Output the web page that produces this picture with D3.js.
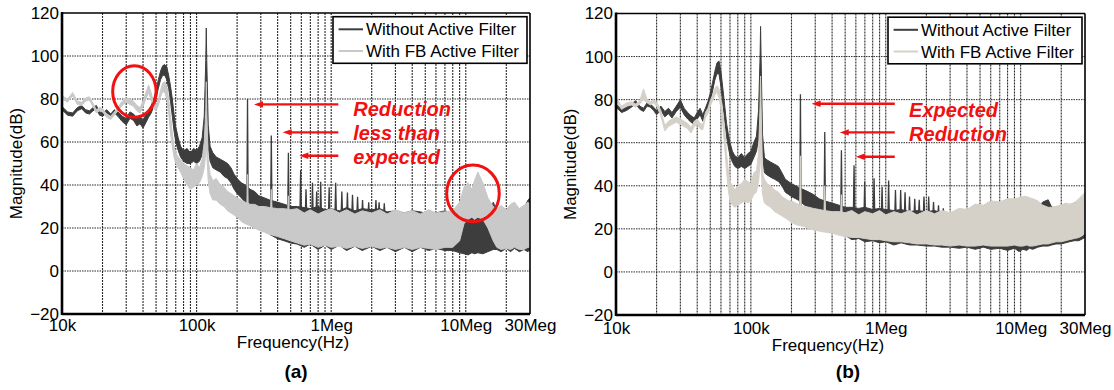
<!DOCTYPE html>
<html>
<head>
<meta charset="utf-8">
<script src="https://cdn.jsdelivr.net/npm/d3@7"></script>
<style>
  body { margin: 0; background: #fff; }
  text { font-family: "Liberation Sans", Arial, sans-serif; }
</style>
</head>
<body>
<svg id="chart" width="1114" height="390"></svg>
<script>
// frequency grid shared by both spectra (kHz)
const freqKHz = [
  10, 11, 12, 13, 14, 15, 16, 17, 18, 19,
  20, 21.5, 23, 24.5, 26, 28, 30, 32, 34, 36,
  38, 40, 42, 44, 46, 48, 50, 52, 54, 56,
  58, 60, 62, 64, 66, 68, 70, 73, 76, 80,
  85, 90, 95, 100, 105, 110, 114, 117, 118, 119,
  122, 126, 132, 140, 150, 160, 170, 180, 190, 200,
  215, 230, 250, 270, 290, 320, 350, 400, 450, 500,
  560, 630, 700, 800, 900, 1000, 1150, 1300, 1500, 1700,
  2000, 2300, 2600, 3000, 3500, 4000, 4600, 5300, 6000, 7000,
  8000, 9000, 9700, 10400, 11100, 11600, 12300, 13400, 14600, 16000,
  17000, 18300, 20000, 21500, 23000, 25000, 27000, 29000, 30000
];

// (a) without active filter: upper / lower edge of the trace (dB)
const darkHiA = [
  76.5, 74, 73.5, 76, 77, 75, 74.5, 76, 77, 74,
  73.5, 75, 73, 75, 74, 72, 71, 74, 73, 71,
  72, 70, 73, 75, 77, 80, 84, 89, 93, 95.5,
  96, 95, 91, 86, 80, 73, 67, 62, 58, 56,
  57, 55, 57, 56, 58, 62, 72, 98, 113, 98,
  68, 58, 55, 53, 52, 51, 50, 48, 45, 43,
  41, 40, 38, 37, 35, 34, 33, 32, 31, 30,
  30, 29.5, 29, 30, 28.5, 29, 28, 29.5, 28, 29,
  28.5, 29, 27.5, 28, 27, 28, 27.5, 26.5, 27, 28,
  27, 27.5, 24, 25, 26, 25, 26, 25, 25, 32,
  28, 27, 28, 27.5, 28, 27, 29, 33, 34
];
const darkLoA = [
  75, 72.5, 72, 74.5, 75.5, 73.5, 73, 74.5, 75.5, 72.5,
  72, 73.5, 71.5, 73.5, 72, 69.5, 68, 71, 70, 67.5,
  68.5, 66.5, 69, 71.5, 73.5, 76.5, 80, 85, 89, 91,
  91, 89, 85, 79, 72, 65, 60, 56, 53, 51,
  50, 50, 51, 50, 51, 54, 60, 70, 80, 70,
  58, 51, 48, 47, 46, 44, 43, 41, 38, 36,
  34, 32, 29, 26, 23, 20, 17, 15, 14, 13,
  12.5, 11, 12.5, 10, 12, 10, 12, 9.5, 11.5, 9.5,
  11.5, 9.5, 11, 9, 11, 9, 11, 9.5, 10.5, 9.5,
  9.5, 8.5, 8, 7.5, 8.5, 8, 8.5, 8, 9, 10,
  10, 9, 10.5, 9, 10.5, 9, 10, 9, 10
];
// (a) with FB active filter
const lightHiA = [
  81.5, 80, 83, 79, 78.5, 80.5, 81, 78, 75, 76,
  75.5, 73, 72, 74, 76, 79, 80.5, 80, 79, 77,
  76, 79, 83, 86.5, 83, 78, 77, 80, 84, 87.5,
  88, 86, 80, 72, 64, 58, 55, 53, 52, 50,
  49, 48, 47, 50, 48, 52, 60, 75, 88, 75,
  52, 45, 42, 43, 40, 39, 37, 36, 35, 34,
  33, 32, 31, 31, 30, 30, 29.5, 29, 29, 28.5,
  29, 27, 28.5, 26.5, 28, 29, 27, 28.5, 26.5, 28,
  27, 28.5, 26.5, 28.5, 27, 28, 26.5, 28.5, 27, 27.5,
  28, 32, 39, 41, 38, 42, 46, 41, 34, 30,
  29, 30.5, 28.5, 31, 32, 29, 30.5, 32, 31
];
const lightLoA = [
  80, 78.5, 81.5, 77.5, 77, 79, 79.5, 76.5, 73.5, 74.5,
  74, 71.5, 70.5, 72.5, 74.5, 77, 78.5, 77.5, 76.5, 74.5,
  73.5, 76.5, 80, 83, 79.5, 75.5, 74.5, 77, 81, 83.5,
  83, 80, 74, 64, 58, 53, 50, 48, 46, 43,
  40, 38, 39, 40, 41, 44, 48, 55, 60, 55,
  42, 36, 33, 33, 31, 30, 28, 27, 26, 25,
  23, 22, 21, 20, 19, 18, 17, 16, 15, 14,
  13, 12, 12.5, 11, 12, 11, 11.5, 10.5, 11.5, 10.5,
  11.5, 10.5, 11, 10, 11, 10, 11, 10.5, 10, 11,
  11, 14, 22, 24, 25, 24, 25, 24, 20, 14,
  11, 10, 10.5, 10, 11, 10, 10, 11, 11
];

// (b) without active filter
const darkHiB = [
  78, 75.5, 76.5, 78, 79.5, 77, 76, 78.5, 78, 76.5,
  75, 77, 74.5, 76, 74, 77, 80, 76, 74, 72.5,
  71.5, 74, 76, 73, 76, 79, 83, 88, 93, 97,
  98, 93, 85, 77, 69, 64, 60, 56, 54, 53,
  55, 53, 55, 56, 60, 63, 75, 100, 114, 100,
  64, 53, 52, 51, 50, 49, 46, 43, 42, 41,
  40, 39, 38, 37, 36, 34, 33, 32, 31, 30,
  30, 29.5, 30, 29, 29.5, 29, 28.5, 29, 28, 28.5,
  28, 28.5, 27.5, 27, 27, 26.5, 27, 26.5, 27, 27.5,
  28, 29, 30, 30, 31, 31, 30, 30, 32.5, 33.5,
  30, 30, 30, 31, 31, 32, 33, 35, 36
];
const darkLoB = [
  76.5, 74, 75, 76.5, 78, 75.5, 74.5, 77, 76.5, 75,
  73, 75, 72, 73.5, 71.5, 74.5, 76.5, 73, 71, 69.5,
  68.5, 71, 73, 70, 73, 76, 79, 84, 89, 92,
  92, 86, 78, 70, 63, 58, 54, 51, 49, 48,
  49, 48, 49, 50, 53, 56, 62, 72, 80, 72,
  55, 46, 45, 44, 43, 42, 40, 37, 36, 35,
  34, 33, 31, 29, 27, 25, 23, 21, 19, 17,
  15, 15.5, 14, 14.5, 13.5, 14, 12.5, 13.5, 12.5, 12.5,
  12, 12, 11.5, 11.5, 11, 11.5, 10.5, 11.5, 10.5, 11,
  10, 11, 9.5, 10.5, 10, 11, 10.5, 11.5, 12, 12,
  12.5, 13, 13, 13.5, 14, 14.5, 14.5, 15.5, 16
];
// (b) with FB active filter
const lightHiB = [
  81, 77, 78.5, 79, 78, 79.5, 85, 80, 79, 80,
  79, 75, 68, 70, 71, 72, 71, 70, 69, 67,
  70, 71, 69, 68.5, 74, 76, 79.5, 82, 85, 86.5,
  85, 80, 74, 66, 55, 47, 42, 40, 38, 40,
  41, 43, 42, 41, 46, 47, 55, 78, 91, 78,
  46, 43, 41, 40, 38, 37, 35, 34, 33, 33,
  32, 31, 30.5, 30, 29.5, 29, 28.5, 28, 28, 27.5,
  28.5, 26.5, 28, 27, 28.5, 26.5, 28, 27, 28.5, 26.5,
  28.5, 27, 28.5, 27.5, 29.5, 29, 31.5, 31, 33, 32.5,
  34, 34, 34.5, 35, 35, 34.5, 34, 33, 31, 30,
  30, 30.5, 31, 32, 31.5, 32, 34, 36, 36.5
];
const lightLoB = [
  79.5, 75.5, 77, 77.5, 76.5, 78, 80, 78.5, 77.5, 78.5,
  77, 72.5, 65.5, 67.5, 68.5, 69.5, 68.5, 67.5, 66.5, 64.5,
  67.5, 68.5, 66.5, 66, 71.5, 73.5, 77, 79.5, 82, 83.5,
  81, 76, 68, 58, 47, 38, 33, 31, 30, 31,
  32, 33, 32, 33, 36, 37, 42, 50, 60, 50,
  36, 32, 31, 30, 28, 27, 26, 25, 24, 23,
  22, 21.5, 21, 20, 19.5, 19, 18.5, 18, 17, 16.5,
  16, 16, 15.5, 15, 15, 14.5, 14, 14, 13.5, 13,
  13, 12.5, 12.5, 12, 12.5, 12, 12, 12.5, 12, 12,
  12, 12.5, 12, 12, 12.5, 12, 12, 12.5, 13, 13,
  13.5, 14, 14, 14.5, 15, 15.5, 16, 17, 18
];

// narrow harmonic spikes: frequency (kHz) and peak (dB)
const darkSpikeFreqA = [239, 359, 481, 593, 650, 726, 780, 836, 966, 1080, 1200, 1320, 1440, 1570, 1710, 1900, 2150, 2270, 2480];
const darkSpikeTopA = [80, 63, 55, 47, 38, 41, 37, 41.5, 39, 41, 37, 36.5, 35.5, 34.5, 33, 32, 33, 32, 31.5];
const lightSpikeFreqA = [239, 359, 481];
const lightSpikeTopA = [45, 38, 35];
const darkSpikeFreqB = [233, 353, 469, 582, 698, 819, 939, 1050, 1180, 1290, 1390, 1500, 1640, 1770, 1920, 2080, 2260, 2460, 2670];
const darkSpikeTopB = [82.5, 65, 56.5, 49.5, 42, 43.5, 39.5, 42.5, 38, 38, 37, 35, 34, 33.5, 35, 35, 32.5, 31, 29.5];
const lightSpikeFreqB = [233, 353, 469];
const lightSpikeTopB = [54, 40, 36];

const yTicks = [-20, 0, 20, 40, 60, 80, 100, 120];
const xTickValues = [10, 100, 1000, 10000, 30000];
const xTickLabels = ['10k', '100k', '1Meg', '10Meg', '30Meg'];
const legendLabels = ['Without Active Filter', 'With FB Active Filter'];
const notesA = ['Reduction', 'less than', 'expected'];
const notesB = ['Expected', 'Reduction'];

const svg = d3.select('#chart');
const RED = '#f21010';
const DARK = '#3d3d3d';

const panels = [
  {
    id: 'a', left: 62, right: 530, top: 13, bottom: 314,
    darkHi: darkHiA, darkLo: darkLoA, lightHi: lightHiA, lightLo: lightLoA,
    darkSpikes: [darkSpikeFreqA, darkSpikeTopA], lightSpikes: [lightSpikeFreqA, lightSpikeTopA],
    lightColor: '#c9c9c9', caption: '(a)', captionX: 296, xLabelX: 293, xLabelY: 348, tickPad: 5,
    // arrows in data units: tip freq, tail freq, level
    arrows: [[267, 1130, 77.5], [436, 1130, 64.5], [580, 1130, 53.6]],
    notes: notesA, noteF: 1459, noteDb: [72.3, 61.1, 50],
    circles: [[34.5, 83.5, 21.7, 25.8], [11310, 36.1, 26.3, 28.3]]
  },
  {
    id: 'b', left: 616, right: 1085, top: 13.5, bottom: 315,
    darkHi: darkHiB, darkLo: darkLoB, lightHi: lightHiB, lightLo: lightLoB,
    darkSpikes: [darkSpikeFreqB, darkSpikeTopB], lightSpikes: [lightSpikeFreqB, lightSpikeTopB],
    lightColor: '#d5d1c9', caption: '(b)', captionX: 848, xLabelX: 828, xLabelY: 351, tickPad: 7,
    arrows: [[282, 1166, 78.1], [456, 1166, 64.8], [600, 1166, 53.5]],
    notes: notesB, noteF: 1489, noteDb: [71.8, 60.9],
    circles: []
  }
];

panels.forEach(drawPanel);

function drawPanel(p) {
  const x = d3.scaleLog().domain([10, 30000]).range([p.left, p.right]);
  const y = d3.scaleLinear().domain([-20, 120]).range([p.bottom, p.top]);
  const g = svg.append('g').attr('class', 'panel-' + p.id);

  g.append('clipPath').attr('id', 'clip-' + p.id)
    .append('rect')
    .attr('x', p.left).attr('y', p.top)
    .attr('width', p.right - p.left).attr('height', p.bottom - p.top);

  // grid
  const grid = g.append('g').attr('class', 'grid');
  grid.selectAll('line.v')
    .data(x.ticks().filter(d => d > 10 && d < 30000))
    .join('line')
    .attr('class', 'v')
    .attr('x1', d => x(d)).attr('x2', d => x(d))
    .attr('y1', p.top).attr('y2', p.bottom)
    .attr('stroke', '#2a2a2a')
    .attr('stroke-width', 1.1)
    .attr('stroke-dasharray', '2,1');
  grid.selectAll('line.h')
    .data(yTicks.filter(d => d > -20 && d < 120))
    .join('line')
    .attr('class', 'h')
    .attr('x1', p.left).attr('x2', p.right)
    .attr('y1', d => y(d)).attr('y2', d => y(d))
    .attr('stroke', '#2a2a2a')
    .attr('stroke-width', 1)
    .attr('stroke-dasharray', '1.5,1');

  const plot = g.append('g').attr('clip-path', `url(#clip-${p.id})`);

  const band = (hi, lo) => d3.area()
    .x((d, i) => x(freqKHz[i]))
    .y0((d, i) => y(lo[i]))
    .y1((d, i) => y(hi[i]))(freqKHz);

  const spikePath = (f, top, base) =>
    `M${x(f * 0.988)},${y(base)}L${x(f)},${y(top)}L${x(f * 1.012)},${y(base)}Z`;

  plot.append('path')
    .attr('d', band(p.darkHi, p.darkLo))
    .attr('fill', DARK).attr('stroke', DARK).attr('stroke-width', 1);

  plot.append('g').selectAll('path')
    .data(p.darkSpikes[0])
    .join('path')
    .attr('d', (f, i) => spikePath(f, p.darkSpikes[1][i], 26))
    .attr('fill', DARK).attr('stroke', DARK).attr('stroke-width', 1.3);

  plot.append('path')
    .attr('d', band(p.lightHi, p.lightLo))
    .attr('fill', p.lightColor).attr('stroke', p.lightColor).attr('stroke-width', 1);

  plot.append('g').selectAll('path')
    .data(p.lightSpikes[0])
    .join('path')
    .attr('d', (f, i) => spikePath(f, p.lightSpikes[1][i], 26))
    .attr('fill', p.lightColor).attr('stroke', p.lightColor).attr('stroke-width', 1.3);

  // frame
  g.append('line').attr('x1', p.left).attr('x2', p.right).attr('y1', p.top).attr('y2', p.top)
    .attr('stroke', '#000').attr('stroke-width', 1.6);
  g.append('line').attr('x1', p.right).attr('x2', p.right).attr('y1', p.top).attr('y2', p.bottom)
    .attr('stroke', '#000').attr('stroke-width', 1.6);
  g.append('line').attr('x1', p.left).attr('x2', p.right).attr('y1', p.bottom).attr('y2', p.bottom)
    .attr('stroke', '#000').attr('stroke-width', 2.6);
  g.append('line').attr('x1', p.left).attr('x2', p.left).attr('y1', p.top - 1).attr('y2', p.bottom + 1)
    .attr('stroke', '#000').attr('stroke-width', 2.6);

  // axes
  const yAxis = g.append('g')
    .attr('transform', `translate(${p.left},0)`)
    .call(d3.axisLeft(y).tickValues(yTicks).tickSize(0).tickPadding(3));
  yAxis.select('.domain').remove();
  yAxis.selectAll('text').attr('font-size', 17).attr('fill', '#000')
    .attr('font-family', '"Liberation Sans", Arial, sans-serif');

  const xAxis = g.append('g')
    .attr('transform', `translate(0,${p.bottom})`)
    .call(d3.axisBottom(x).tickValues(xTickValues).tickFormat((d, i) => xTickLabels[i])
      .tickSize(0).tickPadding(p.tickPad));
  xAxis.select('.domain').remove();
  xAxis.selectAll('text').attr('font-size', 17).attr('fill', '#000')
    .attr('font-family', '"Liberation Sans", Arial, sans-serif');

  g.append('text')
    .attr('x', p.xLabelX).attr('y', p.xLabelY)
    .attr('text-anchor', 'middle').attr('font-size', 17)
    .text('Frequency(Hz)');
  g.append('text')
    .attr('transform', `translate(${p.left - 40},${(p.top + p.bottom) / 2}) rotate(-90)`)
    .attr('text-anchor', 'middle').attr('font-size', 17)
    .text('Magnitude(dB)');
  g.append('text')
    .attr('x', p.captionX).attr('y', 378)
    .attr('text-anchor', 'middle').attr('font-size', 19).attr('font-weight', 700)
    .attr('font-family', '"Liberation Serif", "Times New Roman", serif')
    .text(p.caption);

  // legend
  const lx = p.right - 197, ly = p.top + 3.7;
  const legend = g.append('g').attr('transform', `translate(${lx},${ly})`);
  legend.append('rect')
    .attr('width', 194).attr('height', 46.6)
    .attr('fill', '#fff').attr('stroke', '#000').attr('stroke-width', 1.6);
  legend.selectAll('g.row')
    .data(legendLabels)
    .join('g')
    .attr('class', 'row')
    .attr('transform', (d, i) => `translate(0,${12.6 + i * 21.7})`)
    .each(function (d, i) {
      const row = d3.select(this);
      row.append('line')
        .attr('x1', 5.6).attr('x2', 30).attr('y1', 0).attr('y2', 0)
        .attr('stroke', i === 0 ? DARK : p.lightColor).attr('stroke-width', 2);
      row.append('text')
        .attr('x', 33).attr('y', 6).attr('font-size', 17).text(d);
    });

  // annotations
  const ann = g.append('g').attr('class', 'annotations');
  p.arrows.forEach(([tip, tail, db]) => {
    const tx = x(tip), yy = y(db);
    ann.append('line')
      .attr('x1', tx + 6).attr('x2', x(tail)).attr('y1', yy).attr('y2', yy)
      .attr('stroke', RED).attr('stroke-width', 2.4);
    ann.append('path')
      .attr('d', `M${tx},${yy}L${tx + 9},${yy - 3.2}L${tx + 9},${yy + 3.2}Z`)
      .attr('fill', RED);
  });
  p.notes.forEach((t, i) => {
    ann.append('text')
      .attr('x', x(p.noteF)).attr('y', y(p.noteDb[i]))
      .attr('font-size', 20).attr('font-weight', 700).attr('font-style', 'italic')
      .attr('fill', RED)
      .text(t);
  });
  p.circles.forEach(([f, db, rx, ry]) => {
    ann.append('ellipse')
      .attr('cx', x(f)).attr('cy', y(db)).attr('rx', rx).attr('ry', ry)
      .attr('fill', 'none').attr('stroke', RED).attr('stroke-width', 3);
  });
}
</script>
</body>
</html>
